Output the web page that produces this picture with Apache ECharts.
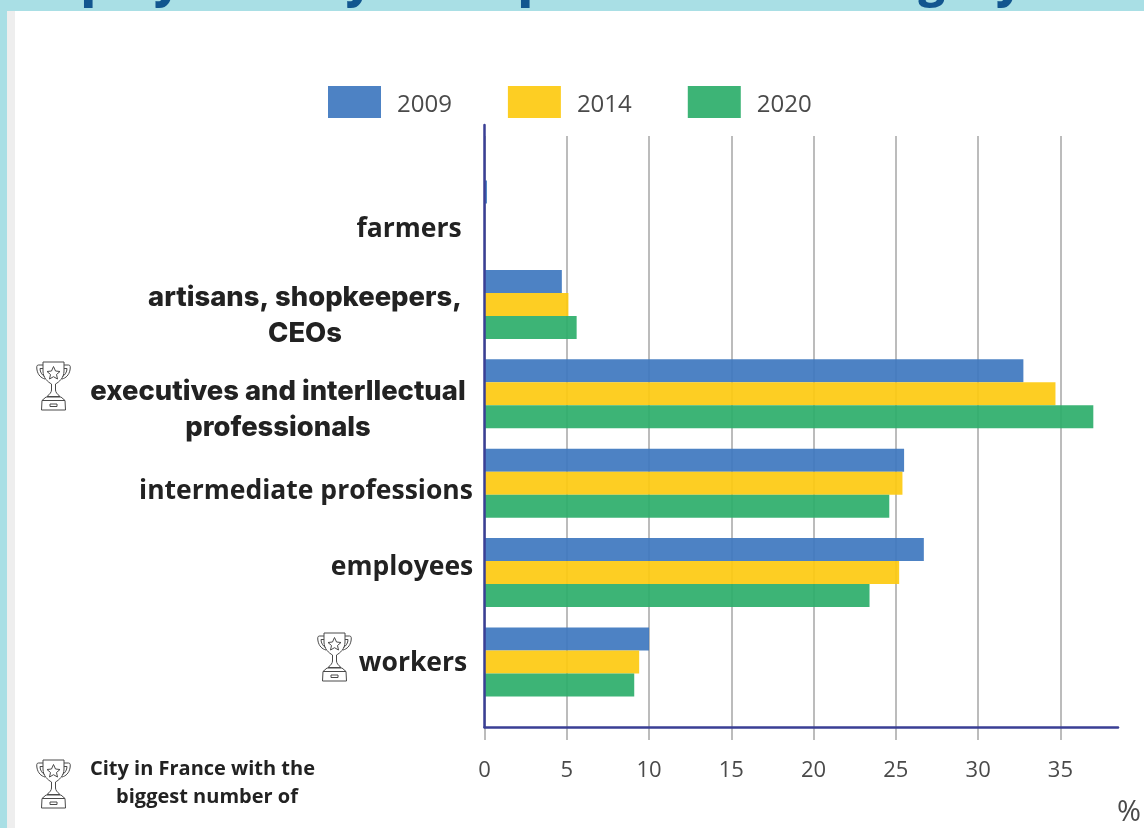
<!DOCTYPE html>
<html>
<head>
<meta charset="utf-8">
<style>html,body{margin:0;padding:0;background:#fff}#chart{width:1144px;height:828px}</style>
<script src="https://cdn.jsdelivr.net/npm/echarts@6/dist/echarts.min.js"></script>
</head>
<body>
<div id="chart"></div>
<script>
// Employment shares (%) by socio-professional category
const categories = ['farmers', 'artisans, shopkeepers,\nCEOs', 'executives and interllectual\nprofessionals', 'intermediate professions', 'employees', 'workers'];
const years = ['2009', '2014', '2020'];
const values2009 = [0.15, 4.7, 32.75, 25.5, 26.7, 10.0];
const values2014 = [0, 5.1, 34.7, 25.4, 25.2, 9.4];
const values2020 = [0, 5.6, 37.0, 24.6, 23.4, 9.1];
const xTicks = [0, 5, 10, 15, 20, 25, 30, 35];
const heading = 'Employment by socio-professional category';
const footnoteLines = ['City in France with the', 'biggest number of'];
const unit = '%';

const seriesValues = [values2009, values2014, values2020];
const seriesColors = ['#4079bf', '#fdca12', '#2eae6c'];
const axisBlue = '#3a3f95';
const gridGray = '#bcbcbc';
const tickInk = '#4a4a4a';

const left = 484.5, right = 26;
const xMax = 38.5;

// Outline trophy, drawn in a 35x49 box
const trophy =
  'M7 1H28V10C28 17 23 21 19.5 23V29C19.5 31 21 33 24 35.5H11C14 33 15.5 31 15.5 29V23C12 21 7 17 7 10Z' +
  'M7 4H2.5C0.5 4 0.5 6 1 9C2 14 5 17 9 18M7 7.5H4C4 11 6 14 8.5 15.5' +
  'M28 4H32.5C34.5 4 34.5 6 34 9C33 14 30 17 26 18M28 7.5H31C31 11 29 14 26.5 15.5' +
  'M17.5 5.5L19.5 10L24 10.5L20.5 13.5L21.5 18L17.5 15.7L13.5 18L14.5 13.5L11 10.5L15.5 10Z' +
  'M10 36H25L29 39.5L29.5 49H5.5L6 39.5ZM6 39.5H29M14 43H21V45.5H14Z';
echarts.graphic.registerShape('trophy', echarts.graphic.extendPath(trophy, {}));

function trophyAt(x, y) {
  return {
    type: 'trophy', x: x, y: y,
    style: { fill: 'none', stroke: '#4a4a4a', lineWidth: 1 }
  };
}

// Category captions sit at hand-tuned spots beside the bars
const captionSpots = [
  { x: 409, y: 229, font: '700 26.5px "Open Sans"' },
  { x: 305, y: 316, font: '800 27.4px Inter' },
  { x: 278, y: 410, font: '800 27.4px Inter' },
  { x: 306, y: 491, font: '700 26.5px "Open Sans"' },
  { x: 402, y: 567, font: '700 26.5px "Open Sans"' },
  { x: 413, y: 663, font: '700 26.5px "Open Sans"' }
];
const captions = categories.map(function (name, i) {
  return {
    type: 'text', x: captionSpots[i].x, y: captionSpots[i].y,
    style: {
      text: name, font: captionSpots[i].font, fill: '#222',
      align: 'center', verticalAlign: 'middle', lineHeight: 36
    }
  };
});

const chart = echarts.init(document.getElementById('chart'), null, { renderer: 'canvas' });
chart.setOption({
  animation: false,
  backgroundColor: '#fff',
  legend: {
    data: years, left: 323, top: 81, itemWidth: 53, itemHeight: 32, itemGap: 56,
    icon: 'rect',
    formatter: '{t|{name}}',
    textStyle: {
      padding: [0, 0, 0, 11],
      rich: { t: { fontFamily: 'Open Sans', fontSize: 24, color: tickInk, lineHeight: 30, verticalAlign: 'bottom' } }
    }
  },
  grid: [
    { left: left, right: right, top: 136, bottom: 101 },      // gridlines, ticks, labels
    { left: left, right: right, top: 125, bottom: 101 },      // axis lines
    { left: left, right: right, top: 170.3, bottom: 121.3 }   // bars
  ],
  xAxis: [
    {
      gridIndex: 0, type: 'value', min: 0, max: xMax,
      axisLine: { show: false },
      axisTick: { show: true, length: 13, customValues: xTicks, lineStyle: { color: gridGray, width: 2 } },
      axisLabel: {
        customValues: xTicks, margin: 33, fontFamily: 'Open Sans', fontSize: 22, color: tickInk,
        hideOverlap: false
      },
      splitLine: { show: true, lineStyle: { color: gridGray, width: 2 } },
      z: 1
    },
    {
      gridIndex: 1, type: 'value', min: 0, max: xMax,
      axisLine: { show: true, onZero: false, lineStyle: { color: axisBlue, width: 2.5 } },
      axisTick: { show: false }, axisLabel: { show: false }, splitLine: { show: false },
      z: 5
    },
    {
      gridIndex: 2, type: 'value', min: 0, max: xMax,
      axisLine: { show: false }, axisTick: { show: false }, axisLabel: { show: false }, splitLine: { show: false }
    }
  ],
  yAxis: [
    {
      gridIndex: 0, type: 'category', inverse: true, data: categories,
      axisLine: { show: false }, axisTick: { show: false }, axisLabel: { show: false }, splitLine: { show: false }
    },
    {
      gridIndex: 1, type: 'category', inverse: true, data: categories,
      axisLine: { show: true, lineStyle: { color: axisBlue, width: 2.5 } },
      axisTick: { show: false }, axisLabel: { show: false }, splitLine: { show: false },
      z: 5
    },
    {
      gridIndex: 2, type: 'category', inverse: true, data: categories,
      axisLine: { show: false }, axisTick: { show: false }, axisLabel: { show: false }, splitLine: { show: false }
    }
  ],
  series: years.map(function (year, i) {
    return {
      name: year, type: 'bar', xAxisIndex: 2, yAxisIndex: 2,
      data: seriesValues[i], barWidth: 23, barGap: 0, z: 3,
      itemStyle: { color: seriesColors[i], opacity: 0.93 }
    };
  }),
  graphic: { elements: [
    { type: 'rect', shape: { x: 0, y: 0, width: 1144, height: 11 }, style: { fill: '#a9dfe5' } },
    { type: 'rect', shape: { x: 0, y: 0, width: 7, height: 828 }, style: { fill: '#a9dfe5' } },
    { type: 'rect', shape: { x: 7, y: 11, width: 8, height: 817 }, style: { fill: '#eeeeee' } },
    {
      type: 'text', x: 517, y: -38,
      style: { text: heading, font: '800 45px "Open Sans"', fill: '#12568f', align: 'center', verticalAlign: 'top' }
    },
    trophyAt(36, 361), trophyAt(317, 632), trophyAt(36, 759),
    {
      type: 'text', x: 202.5, y: 769,
      style: { text: footnoteLines[0], font: '700 20px "Open Sans"', fill: '#222', align: 'center', verticalAlign: 'middle' }
    },
    {
      type: 'text', x: 207, y: 797,
      style: { text: footnoteLines[1], font: '700 20px "Open Sans"', fill: '#222', align: 'center', verticalAlign: 'middle' }
    },
    {
      type: 'text', x: 1129, y: 813,
      style: { text: unit, font: '400 29px "Open Sans"', fill: tickInk, align: 'center', verticalAlign: 'middle' }
    }
  ].concat(captions) }
});
</script>
</body>
</html>
